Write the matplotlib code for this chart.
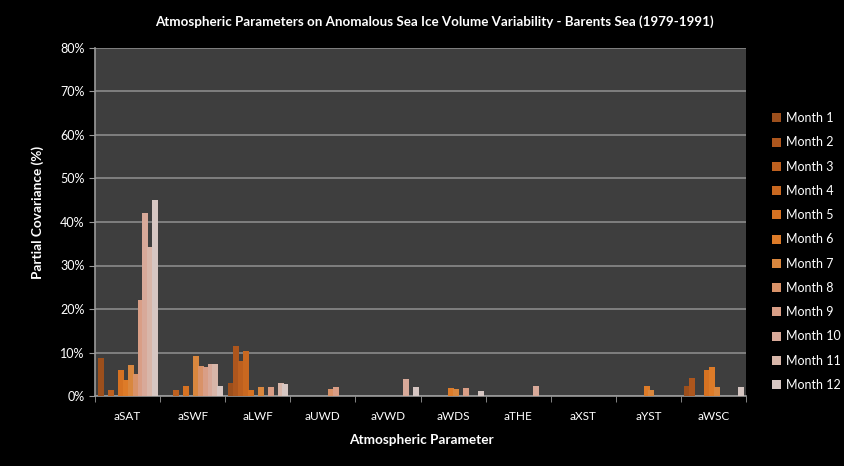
import matplotlib.pyplot as plt
import numpy as np
from matplotlib.ticker import FuncFormatter

plt.rcParams['font.family'] = ['Lato', 'DejaVu Sans']

# Data (partial covariance, %)
params = ['aSAT', 'aSWF', 'aLWF', 'aUWD', 'aVWD', 'aWDS', 'aTHE', 'aXST', 'aYST', 'aWSC']
months = ['Month %d' % m for m in range(1, 13)]

# one list per month, one value per parameter
month1 = [8.7, 0, 3.1, 0, 0, 0, 0, 0, 0, 2.2]
month2 = [0, 0, 11.5, 0, 0, 0, 0, 0, 0, 4.2]
month3 = [1.3, 1.3, 8.1, 0, 0, 0, 0, 0, 0, 0]
month4 = [0, 0, 10.4, 0, 0, 0, 0, 0, 0, 0]
month5 = [5.9, 2.2, 1.3, 0, 0, 0, 0, 0, 0, 5.9]
month6 = [3.7, 0, 0, 0, 0, 1.8, 0, 0, 2.2, 6.7]
month7 = [7.1, 9.3, 2.0, 0, 0, 1.6, 0, 0, 1.3, 2.1]
month8 = [5.1, 6.9, 0, 1.5, 0, 0, 0, 0, 0, 0]
month9 = [22.0, 6.6, 2.0, 2.0, 0, 1.8, 0, 0, 0, 0]
month10 = [42.1, 7.3, 0, 0, 4.0, 0, 2.3, 0, 0, 0]
month11 = [34.3, 7.4, 3.1, 0, 0, 0, 0, 0, 0, 0]
month12 = [45.0, 2.4, 2.8, 0, 2.1, 1.2, 0, 0, 0, 2.1]
values = [month1, month2, month3, month4, month5, month6,
          month7, month8, month9, month10, month11, month12]

colors = ['#9c4f1c', '#ad561d', '#bd601f', '#c96820', '#d67222', '#dd7b28',
          '#d9873e', '#d99268', '#d99e86', '#d8a999', '#d8b6a9', '#d6c6c2']

fig = plt.figure(figsize=(8.45, 4.66), dpi=100, facecolor='black')
ax = fig.add_axes([95 / 845, 1 - 396 / 466, 651 / 845, 348 / 466])
ax.set_facecolor('#3e3e3e')

x = np.arange(len(params))
slot = 4.9 / 65.1
width = 6.0 / 65.1
start = -0.5 + 3.3 / 65.1

for k, (vals, col) in enumerate(zip(values, colors)):
    ax.bar(x + start + k * slot, vals, width, align='edge', color=col,
           edgecolor='none', label=months[k], zorder=3)

ax.set_xlim(-0.5, len(params) - 0.5)
ax.set_ylim(0, 80)
ax.set_yticks(np.arange(0, 81, 10))
ax.yaxis.set_major_formatter(FuncFormatter(lambda v, p: '%d%%' % v))
ax.set_xticks(x)
ax.set_xticklabels(params)
ax.set_xticks(np.arange(-0.5, len(params)), minor=True)
ax.tick_params(axis='x', which='major', length=0, colors='white', labelsize=8.5, pad=11)
ax.tick_params(axis='x', which='minor', length=4, color='#9a9a9a')
ax.tick_params(axis='y', length=4, color='#9a9a9a', colors='white', labelsize=9)
ax.yaxis.grid(True, color='#8a8a8a', linewidth=1.2, zorder=0)
ax.set_axisbelow(True)

for side in ['top', 'right']:
    ax.spines[side].set_visible(False)
for side in ['left', 'bottom']:
    ax.spines[side].set_color('#9a9a9a')
    ax.spines[side].set_linewidth(1.2)

fig.text(434 / 845, 1 - 22 / 466,
         'Atmospheric Parameters on Anomalous Sea Ice Volume Variability - Barents Sea (1979-1991)',
         color='white', fontsize=9.6, fontweight='bold', ha='center', va='center')
fig.text(421 / 845, 1 - 440 / 466, 'Atmospheric Parameter', color='white',
         fontsize=9.8, fontweight='bold', ha='center', va='center')
fig.text(38 / 845, 1 - 212 / 466, 'Partial Covariance (%)', color='white',
         fontsize=9.8, fontweight='bold', ha='center', va='center', rotation=90)

leg = fig.legend(loc='upper left', bbox_to_anchor=(766 / 845, 1 - 106 / 466),
                 frameon=False, fontsize=9, labelcolor='white',
                 handlelength=0.72, handleheight=0.72, handletextpad=0.4,
                 labelspacing=0.98, borderpad=0)

fig.savefig('out.png', dpi=100, facecolor='black')
